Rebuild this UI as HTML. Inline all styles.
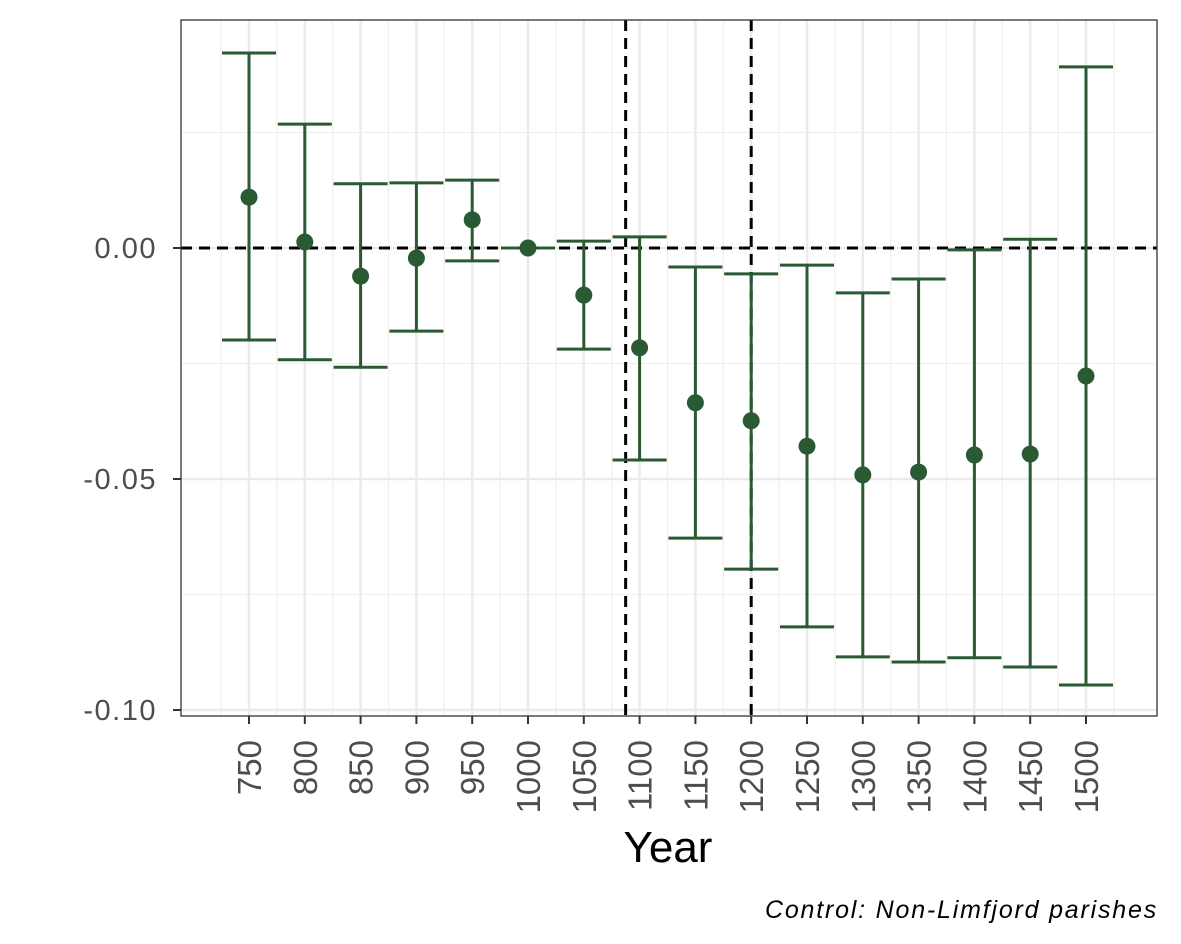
<!DOCTYPE html>
<html><head><meta charset="utf-8"><style>
html,body{margin:0;padding:0;background:#fff;}
svg{display:block;font-family:"Liberation Sans",Arial,sans-serif;}
</style></head><body>
<svg id="chart" width="1181" height="944" viewBox="0 0 1181 944"></svg>
<script>
const years = [750,800,850,900,950,1000,1050,1100,1150,1200,1250,1300,1350,1400,1450,1500];
const estimates = [0.0110,0.0013,-0.0061,-0.0022,0.0061,0,-0.0102,-0.0216,-0.0335,-0.0374,-0.0429,-0.0491,-0.0485,-0.0448,-0.0446,-0.0277];
const upperCI = [0.0422,0.0268,0.0139,0.0141,0.0147,0,0.0015,0.0024,-0.0041,-0.0056,-0.0037,-0.0097,-0.0067,-0.0004,0.0019,0.0392];
const lowerCI = [-0.0199,-0.0242,-0.0258,-0.0180,-0.0028,0,-0.0219,-0.0459,-0.0628,-0.0695,-0.0820,-0.0885,-0.0896,-0.0887,-0.0907,-0.0946];
const yTicks = [0, -0.05, -0.10];
const yTickLabels = ["0.00","-0.05","-0.10"];
const yMinor = [0.025,-0.025,-0.075];
const vLines = [1087.5, 1200];

const NS="http://www.w3.org/2000/svg";
const svg=document.getElementById('chart');
const P={l:181,r:1157,t:20,b:716};
const y=v=>248-v*4620;
const x=yr=>249+(yr-750)/50*55.8;
function mk(tag,attrs,parent){const e=document.createElementNS(NS,tag);for(const k in attrs)e.setAttribute(k,attrs[k]);(parent||svg).appendChild(e);return e;}

const grid=mk('g',{});


yMinor.forEach(v=>{const l=mk('line',{x1:P.l,x2:P.r,y1:y(v),y2:y(v),stroke:'#f0f0f0','stroke-width':1.3},grid);

});
years.forEach((yr,i)=>{if(i<years.length-1){const l=mk('line',{x1:x(yr+25),x2:x(yr+25),y1:P.t,y2:P.b,stroke:'#f0f0f0','stroke-width':1.3},grid);

}});
mk('line',{x1:x(725),x2:x(725),y1:P.t,y2:P.b,stroke:'#f0f0f0','stroke-width':1.3},grid);
mk('line',{x1:x(1525),x2:x(1525),y1:P.t,y2:P.b,stroke:'#f0f0f0','stroke-width':1.3},grid);
yTicks.forEach(v=>{const l=mk('line',{x1:P.l,x2:P.r,y1:y(v),y2:y(v),stroke:'#ebebeb','stroke-width':2.5},grid);

});
years.forEach(yr=>{const l=mk('line',{x1:x(yr),x2:x(yr),y1:P.t,y2:P.b,stroke:'#ebebeb','stroke-width':2.5},grid);

});

const zl=mk('line',{x1:P.l,x2:P.r,y1:y(0),y2:y(0),stroke:'#000','stroke-width':3,'stroke-dasharray':'11,7'});


vLines.forEach(v=>{const l=mk('line',{x1:x(v),x2:x(v),y1:P.t,y2:P.b,stroke:'#000','stroke-width':3,'stroke-dasharray':'11,7'});

});

const C='#2a5a33';
years.forEach((yr,i)=>{
  const g=mk('g',{});
  
  
  const cx=x(yr);
  mk('line',{x1:cx,x2:cx,y1:y(upperCI[i]),y2:y(lowerCI[i]),stroke:C,'stroke-width':3},g);
  mk('line',{x1:cx-27,x2:cx+27,y1:y(upperCI[i]),y2:y(upperCI[i]),stroke:C,'stroke-width':3},g);
  mk('line',{x1:cx-27,x2:cx+27,y1:y(lowerCI[i]),y2:y(lowerCI[i]),stroke:C,'stroke-width':3},g);
  const c=mk('circle',{cx:cx,cy:y(estimates[i]),r:8.5,fill:C},g);
  
  
});

const frame=mk('rect',{x:P.l,y:P.t,width:P.r-P.l,height:P.b-P.t,fill:'none',stroke:'#333','stroke-width':1.3});



yTicks.forEach((v,i)=>{
  mk('line',{x1:P.l-8,x2:P.l,y1:y(v),y2:y(v),stroke:'#333','stroke-width':2});
  const t=mk('text',{x:157,y:y(v)+10,'text-anchor':'end','font-size':29,'letter-spacing':1.5,fill:'#4d4d4d'});
  t.textContent=yTickLabels[i];
  
  
});
years.forEach(yr=>{
  const cx=x(yr);
  mk('line',{x1:cx,x2:cx,y1:P.b,y2:P.b+8,stroke:'#333','stroke-width':2});
  const t=mk('text',{x:0,y:0,'text-anchor':'end','font-size':33,fill:'#4d4d4d',transform:`translate(${cx+12},${P.b+24}) rotate(-90)`});
  t.textContent=yr;
  
  
});
const xt=mk('text',{x:668,y:862,'text-anchor':'middle','font-size':44,fill:'#000'});
xt.textContent='Year';


const cap=mk('text',{x:1158,y:918,'text-anchor':'end','font-size':25,'letter-spacing':1.8,'font-style':'italic',fill:'#000'});
cap.textContent='Control: Non-Limfjord parishes';


</script>
</body></html>
